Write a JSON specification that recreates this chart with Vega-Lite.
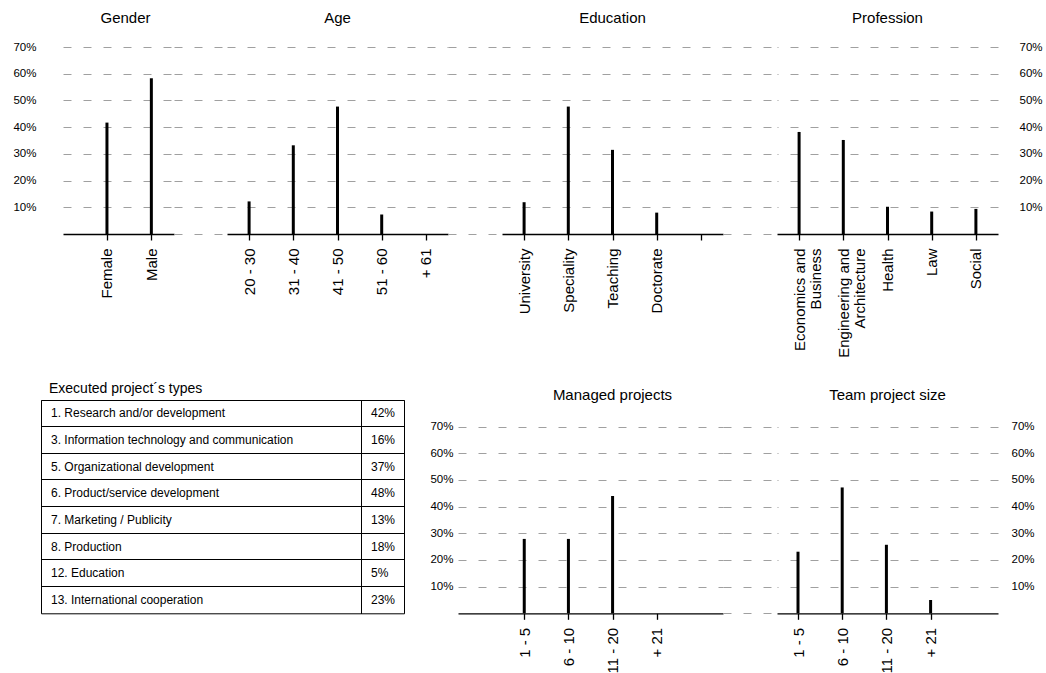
{
  "$schema": "https://vega.github.io/schema/vega-lite/v6.json",
  "padding": {"left": 12, "top": 11, "right": 0, "bottom": 0},
  "config": {
    "font": "Liberation Sans",
    "view": {"stroke": null},
    "title": {"fontSize": 15, "fontWeight": "normal", "color": "#000", "baseline": "alphabetic", "offset": 21},
    "axis": {"labelColor": "#000", "domainColor": "#000", "tickColor": "#000", "gridColor": "#a0a0a0", "gridDash": [8, 12], "gridWidth": 1},
    "axisX": {"labelAngle": -90, "labelFontSize": 15, "tickSize": 6, "labelPadding": 8, "domainWidth": 1.3, "tickWidth": 1.3, "grid": false, "labelLineHeight": 16},
    "axisY": {"labelFontSize": 11.5, "domain": false, "ticks": false, "grid": true}
  },
  "datasets": {
    "gender": [{"cat": "Female", "v": 41.7}, {"cat": "Male", "v": 58.3}],
    "age": [{"cat": "20 - 30", "v": 12.2}, {"cat": "31 - 40", "v": 33.2}, {"cat": "41 - 50", "v": 47.7}, {"cat": "51 - 60", "v": 7.3}, {"cat": "+ 61", "v": 0}],
    "education": [{"cat": "University", "v": 11.9}, {"cat": "Speciality", "v": 47.7}, {"cat": "Teaching", "v": 31.5}, {"cat": "Doctorate", "v": 8.0}],
    "profession": [{"cat": "Economics and Business", "v": 38.2}, {"cat": "Engineering and Architecture", "v": 35.2}, {"cat": "Health", "v": 10.2}, {"cat": "Law", "v": 8.4}, {"cat": "Social", "v": 9.4}],
    "types": [
      {"type": "1. Research and/or development", "pct": 0.42},
      {"type": "3. Information technology and communication", "pct": 0.16},
      {"type": "5. Organizational development", "pct": 0.37},
      {"type": "6. Product/service development", "pct": 0.48},
      {"type": "7. Marketing / Publicity", "pct": 0.13},
      {"type": "8. Production", "pct": 0.18},
      {"type": "12. Education", "pct": 0.05},
      {"type": "13. International cooperation", "pct": 0.23}
    ],
    "managed": [{"cat": "1 - 5", "v": 27.9}, {"cat": "6 - 10", "v": 27.9}, {"cat": "11 - 20", "v": 44.0}, {"cat": "+ 21", "v": 0}],
    "team": [{"cat": "1 - 5", "v": 23.1}, {"cat": "6 - 10", "v": 47.2}, {"cat": "11 - 20", "v": 25.7}, {"cat": "+ 21", "v": 5.0}]
  },
  "spacing": 23,
  "vconcat": [
    {
      "spacing": 0,
      "bounds": "flush",
      "hconcat": [
        {
          "width": 22, "height": 187,
          "data": {"name": "gender"},
          "mark": {"type": "point", "opacity": 0},
          "encoding": {
            "y": {"field": "v", "type": "quantitative", "axis": null}
          }
        },
        {
          "width": 111, "height": 187,
          "title": {"text": "Gender", "dx": 7, "offset": 15},
          "data": {"name": "gender"},
          "mark": {"type": "rule", "strokeWidth": 3, "color": "#000"},
          "encoding": {
            "x": {"field": "cat", "type": "nominal", "sort": null, "scale": {"type": "point", "padding": 0.75, "align": 0.66}, "axis": {"title": null}},
            "y": {"field": "v", "type": "quantitative", "scale": {"domain": [0, 70], "nice": false}, "axis": {"title": null, "orient": "left", "values": [10, 20, 30, 40, 50, 60, 70], "labelExpr": "datum.value + '%'", "labelPadding": 27}},
            "y2": {"datum": 0}
          }
        },
        {
          "width": 53, "height": 187,
          "data": {"name": "gender"},
          "mark": {"type": "point", "opacity": 0},
          "encoding": {
            "y": {"field": "v", "type": "quantitative", "scale": {"domain": [0, 70], "nice": false}, "axis": {"title": null, "values": [0, 10, 20, 30, 40, 50, 60, 70], "labels": false}}
          }
        },
        {
          "width": 221, "height": 187,
          "title": {"text": "Age"},
          "data": {"name": "age"},
          "mark": {"type": "rule", "strokeWidth": 3, "color": "#000"},
          "encoding": {
            "x": {"field": "cat", "type": "nominal", "sort": null, "scale": {"type": "point", "padding": 0.5, "align": 0.5}, "axis": {"title": null}},
            "y": {"field": "v", "type": "quantitative", "scale": {"domain": [0, 70], "nice": false}, "axis": {"title": null, "values": [10, 20, 30, 40, 50, 60, 70], "labels": false}},
            "y2": {"datum": 0}
          }
        },
        {
          "width": 54, "height": 187,
          "data": {"name": "age"},
          "mark": {"type": "point", "opacity": 0},
          "encoding": {
            "y": {"field": "v", "type": "quantitative", "scale": {"domain": [0, 70], "nice": false}, "axis": {"title": null, "values": [0, 10, 20, 30, 40, 50, 60, 70], "labels": false}}
          }
        },
        {
          "width": 221, "height": 187,
          "title": {"text": "Education"},
          "data": {"name": "education"},
          "mark": {"type": "rule", "strokeWidth": 3, "color": "#000"},
          "encoding": {
            "x": {"field": "cat", "type": "nominal", "scale": {"type": "point", "padding": 0.5, "align": 0.5, "domain": ["University", "Speciality", "Teaching", "Doctorate", " "]}, "axis": {"title": null}},
            "y": {"field": "v", "type": "quantitative", "scale": {"domain": [0, 70], "nice": false}, "axis": {"title": null, "values": [10, 20, 30, 40, 50, 60, 70], "labels": false}},
            "y2": {"datum": 0}
          }
        },
        {
          "width": 54, "height": 187,
          "data": {"name": "education"},
          "mark": {"type": "point", "opacity": 0},
          "encoding": {
            "y": {"field": "v", "type": "quantitative", "scale": {"domain": [0, 70], "nice": false}, "axis": {"title": null, "values": [0, 10, 20, 30, 40, 50, 60, 70], "labels": false}}
          }
        },
        {
          "width": 221, "height": 187,
          "title": {"text": "Profession", "offset": 15},
          "data": {"name": "profession"},
          "mark": {"type": "rule", "strokeWidth": 3, "color": "#000"},
          "encoding": {
            "x": {"field": "cat", "type": "nominal", "sort": null, "scale": {"type": "point", "padding": 0.5, "align": 0.5}, "axis": {"title": null, "labelExpr": "indexof(datum.label, ' and ') > 0 ? [slice(datum.label, 0, indexof(datum.label, ' and ') + 4), slice(datum.label, indexof(datum.label, ' and ') + 5)] : datum.label"}},
            "y": {"field": "v", "type": "quantitative", "scale": {"domain": [0, 70], "nice": false}, "axis": {"title": null, "orient": "right", "values": [10, 20, 30, 40, 50, 60, 70], "labelExpr": "datum.value + '%'", "labelPadding": 21}},
            "y2": {"datum": 0}
          }
        }
      ]
    },
    {
      "spacing": 0,
      "bounds": "flush",
      "hconcat": [
        {
          "width": 320, "height": 213.3,
          "title": {"text": "Executed project´s types", "anchor": "start", "fontSize": 14, "offset": 4, "dx": 8},
          "view": {"stroke": "#000", "strokeWidth": 1},
          "data": {"name": "types"},
          "mark": {"type": "text", "align": "left", "dx": 10, "fontSize": 12, "color": "#000"},
          "encoding": {
            "y": {"field": "type", "type": "nominal", "sort": null, "scale": {"type": "band", "paddingInner": 0, "paddingOuter": 0}, "axis": {"title": null, "labels": false, "ticks": false, "domain": false, "grid": true, "gridColor": "#000", "gridDash": [], "bandPosition": 0}},
            "x": {"datum": 0, "type": "quantitative", "scale": {"domain": [0, 1]}, "axis": null},
            "text": {"field": "type"}
          }
        },
        {
          "width": 43, "height": 213.3,
          "view": {"stroke": "#000", "strokeWidth": 1},
          "data": {"name": "types"},
          "mark": {"type": "text", "align": "left", "dx": 10, "fontSize": 12, "color": "#000"},
          "encoding": {
            "y": {"field": "type", "type": "nominal", "sort": null, "scale": {"type": "band", "paddingInner": 0, "paddingOuter": 0}, "axis": {"title": null, "labels": false, "ticks": false, "domain": false, "grid": true, "gridColor": "#000", "gridDash": [], "bandPosition": 0}},
            "x": {"datum": 0, "type": "quantitative", "scale": {"domain": [0, 1]}, "axis": null},
            "text": {"field": "pct", "type": "quantitative", "format": ".0%"}
          }
        },
        {
          "width": 54, "height": 213.3,
          "data": {"name": "team"},
          "mark": {"type": "point", "opacity": 0},
          "encoding": {
            "y": {"field": "v", "type": "quantitative", "axis": null}
          }
        },
        {
          "width": 265, "height": 213.3,
          "title": {"text": "Managed projects", "dx": 22, "offset": -3},
          "data": {"name": "managed"},
          "mark": {"type": "rule", "strokeWidth": 3, "color": "#000"},
          "encoding": {
            "x": {"field": "cat", "type": "nominal", "scale": {"type": "point", "padding": 0.5, "align": 0.5, "domain": [" ", "1 - 5", "6 - 10", "11 - 20", "+ 21", "  "]}, "axis": {"title": null, "values": ["1 - 5", "6 - 10", "11 - 20", "+ 21"]}},
            "y": {"field": "v", "type": "quantitative", "scale": {"domain": [0, 80], "nice": false}, "axis": {"title": null, "orient": "left", "values": [10, 20, 30, 40, 50, 60, 70], "labelExpr": "datum.value + '%'", "labelPadding": 5}},
            "y2": {"datum": 0}
          }
        },
        {
          "width": 54, "height": 213.3,
          "data": {"name": "managed"},
          "mark": {"type": "point", "opacity": 0},
          "encoding": {
            "y": {"field": "v", "type": "quantitative", "scale": {"domain": [0, 80], "nice": false}, "axis": {"title": null, "values": [0, 10, 20, 30, 40, 50, 60, 70], "labels": false}}
          }
        },
        {
          "width": 221, "height": 213.3,
          "title": {"text": "Team project size", "offset": -3},
          "data": {"name": "team"},
          "mark": {"type": "rule", "strokeWidth": 3, "color": "#000"},
          "encoding": {
            "x": {"field": "cat", "type": "nominal", "sort": null, "scale": {"type": "point", "padding": 1, "align": 0.2376}, "axis": {"title": null}},
            "y": {"field": "v", "type": "quantitative", "scale": {"domain": [0, 80], "nice": false}, "axis": {"title": null, "orient": "right", "values": [10, 20, 30, 40, 50, 60, 70], "labelExpr": "datum.value + '%'", "labelPadding": 13}},
            "y2": {"datum": 0}
          }
        }
      ]
    }
  ]
}
